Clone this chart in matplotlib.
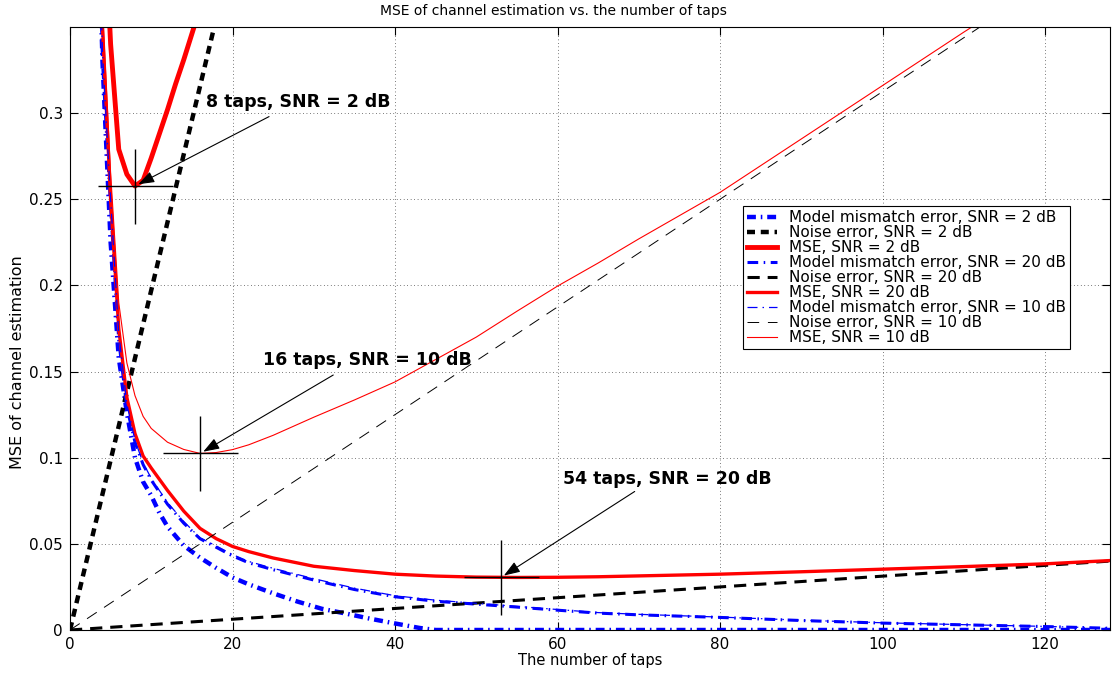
import matplotlib
matplotlib.use('Agg')
import matplotlib.pyplot as plt

# model mismatch error, SNR = 2 dB
taps_m2 = [3, 4, 5, 6, 7, 8, 9, 10, 11, 12, 14, 16, 18, 20, 22, 25, 28, 31, 34, 37, 40, 43, 45, 60, 80, 100, 128]
mism_2 = [0.50, 0.33, 0.225, 0.158, 0.126, 0.100, 0.086, 0.078, 0.068, 0.060, 0.049, 0.042, 0.036, 0.0305,
          0.0265, 0.0213, 0.0165, 0.0123, 0.0095, 0.0065, 0.0038, 0.0012, 0.0, 0.0, 0.0, 0.0, 0.0]

taps = [3, 4, 5, 6, 7, 8, 9, 10, 12, 14, 16, 18, 20, 22, 25, 30, 35, 40, 45, 50,
        55, 60, 65, 70, 80, 90, 100, 110, 120, 128]
mism_20 = [0.50, 0.33, 0.245, 0.168, 0.129, 0.109, 0.096, 0.087, 0.073, 0.062, 0.053, 0.048, 0.043, 0.039,
           0.035, 0.029, 0.0235, 0.0193, 0.0167, 0.015, 0.0133, 0.0115, 0.0098, 0.0088, 0.0073, 0.0055,
           0.004, 0.003, 0.002, 0.001]
mism_10 = [0.51, 0.335, 0.25, 0.172, 0.131, 0.110, 0.097, 0.088, 0.074, 0.063, 0.0535, 0.0488, 0.0438, 0.0398,
           0.0358, 0.0298, 0.0243, 0.0199, 0.0173, 0.0155, 0.0137, 0.0119, 0.0101, 0.0091, 0.0075, 0.0057,
           0.0042, 0.0031, 0.0021, 0.0011]
mse_20 = [0.52, 0.35, 0.25, 0.175, 0.135, 0.114, 0.101, 0.094, 0.081, 0.069, 0.059, 0.053, 0.0485, 0.0455,
          0.0418, 0.037, 0.0345, 0.0324, 0.0313, 0.0307, 0.0305, 0.0306, 0.0309, 0.0314, 0.0324, 0.0338,
          0.0353, 0.0368, 0.0384, 0.0403]
mse_10 = [0.53, 0.36, 0.265, 0.19, 0.155, 0.136, 0.124, 0.117, 0.109, 0.1048, 0.1025, 0.103, 0.1047, 0.1075,
          0.113, 0.1235, 0.1335, 0.144, 0.157, 0.17, 0.185, 0.1996, 0.213, 0.227, 0.254, 0.285, 0.316,
          0.347, 0.377, 0.401]

taps_mse2 = [4, 5, 6, 7, 8, 9, 10, 11, 12, 13, 14, 15, 16, 17]
mse_2 = [0.44, 0.34, 0.279, 0.2645, 0.2577, 0.261, 0.274, 0.288, 0.302, 0.317, 0.331, 0.346, 0.361, 0.376]

# noise error is linear in the number of taps
taps_n2 = [0, 18]
noise_2 = [0, 0.355]
taps_n = [0, 128]
noise_20 = [0, 0.040]
noise_10 = [0, 0.400]

opt_taps = [8, 16, 53]
opt_mse = [0.2577, 0.1025, 0.0306]
opt_labels = ['8 taps, SNR = 2 dB', '16 taps, SNR = 10 dB', '54 taps, SNR = 20 dB']

labels = ['Model mismatch error, SNR = 2 dB', 'Noise error, SNR = 2 dB', 'MSE, SNR = 2 dB',
          'Model mismatch error, SNR = 20 dB', 'Noise error, SNR = 20 dB', 'MSE, SNR = 20 dB',
          'Model mismatch error, SNR = 10 dB', 'Noise error, SNR = 10 dB', 'MSE, SNR = 10 dB']

xticks = [0, 20, 40, 60, 80, 100, 120]
yticks = [0, 0.05, 0.1, 0.15, 0.2, 0.25, 0.3]
yticklabels = ['0', '0.05', '0.1', '0.15', '0.2', '0.25', '0.3']

fig = plt.figure(figsize=(11.13, 6.73), dpi=100)
ax = fig.add_axes([70 / 1113, 43 / 673, 1040 / 1113, 603 / 673])

lines = []
lines += ax.plot(taps_m2, mism_2, color='b', lw=3.2, ls=(0, (2, 1.1, 0.35, 1.1)))
lines += ax.plot(taps_n2, noise_2, color='k', lw=3.2, ls=(0, (1.8, 1.3)))
lines += ax.plot(taps_mse2, mse_2, color='r', lw=3.5)
lines += ax.plot(taps, mism_20, color='b', lw=2.2, ls=(0, (3.5, 1.8, 0.5, 1.8)))
lines += ax.plot(taps_n, noise_20, color='k', lw=2.2, ls=(0, (4, 2.6)))
lines += ax.plot(taps, mse_20, color='r', lw=2.4)
lines += ax.plot(taps, mism_10, color='b', lw=0.9, ls=(0, (8, 4, 1.2, 4)))
lines += ax.plot(taps_n, noise_10, color='k', lw=0.7, ls=(0, (12, 9)))
lines += ax.plot(taps, mse_10, color='r', lw=0.8)

ax.plot(opt_taps, opt_mse, ls='none', marker='+', ms=54, mew=1.0, color='k', zorder=5)

# annotation text / arrow-start positions (layout)
text_pos = [(16.8, 0.3064), (23.7, 0.1566), (60.7, 0.0876)]
arrow_start = [(24.5, 0.298), (32.4, 0.148), (69.5, 0.0804)]
for i in range(3):
    ax.annotate('', xy=(opt_taps[i] + 0.4, opt_mse[i] + 0.001), xytext=arrow_start[i],
                arrowprops=dict(arrowstyle='-|>,head_length=0.7,head_width=0.25', color='k',
                                lw=0.8, shrinkA=0, shrinkB=0, mutation_scale=14), zorder=6)
    ax.text(text_pos[i][0], text_pos[i][1], opt_labels[i], fontsize=12.5, fontweight='bold',
            va='center', ha='left')

ax.set_xlim(0, 128)
ax.set_ylim(0, 0.35)
ax.set_xticks(xticks)
ax.set_yticks(yticks)
ax.set_yticklabels(yticklabels)
ax.tick_params(direction='in', top=True, right=True, length=6, width=0.8, labelsize=11, pad=5)
ax.grid(True, color='k', ls=(0, (1, 4)), lw=0.5)
for s in ax.spines.values():
    s.set_linewidth(0.8)

ax.set_title('MSE of channel estimation vs. the number of taps', fontsize=10, x=0.465, pad=9)
ax.set_xlabel('The number of taps', fontsize=10.5)
ax.set_ylabel('MSE of channel estimation', fontsize=11.5)
ax.xaxis.set_label_coords(0.5, -0.038)
ax.yaxis.set_label_coords(-0.043, 0.444)

leg = ax.legend(lines, labels, loc='upper left', bbox_to_anchor=(0.647, 0.703), borderaxespad=0,
                fontsize=11, labelspacing=0.0, handlelength=2.0, handletextpad=0.75,
                fancybox=False, framealpha=1, edgecolor='k', borderpad=0.25)
leg.get_frame().set_linewidth(0.8)

fig.savefig('out.png', dpi=100)
